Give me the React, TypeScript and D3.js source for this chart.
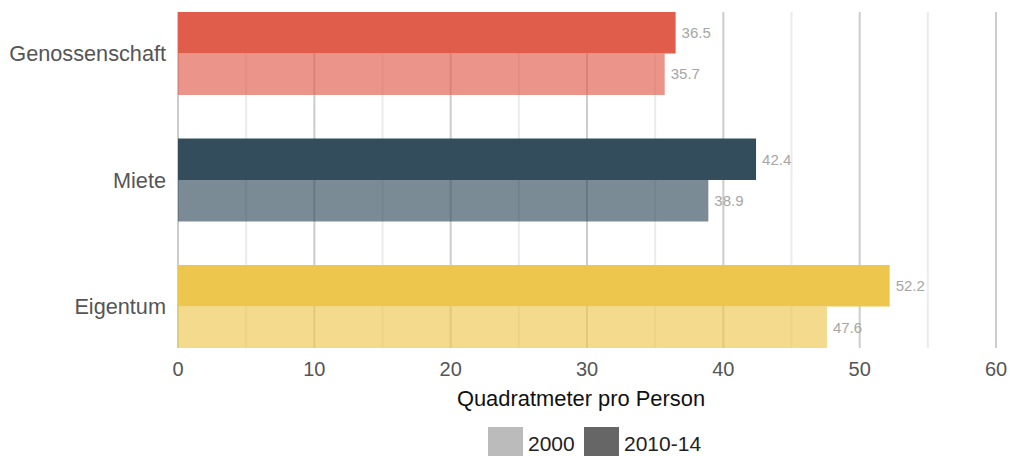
import React from "react";
import * as d3 from "d3";

const categories = ["Genossenschaft", "Miete", "Eigentum"];
const series = ["2010-14", "2000"];
const values2010 = [36.5, 42.4, 52.2];
const values2000 = [35.7, 38.9, 47.6];
const baseColors = ["#E05C4B", "#344D5C", "#EDC64E"];
const majorTicks = [0, 10, 20, 30, 40, 50, 60];
const minorTicks = [5, 15, 25, 35, 45, 55];
const legendItems = [
  { label: "2000", color: "#bbbbbb" },
  { label: "2010-14", color: "#666666" },
];

const W = 1010;
const H = 456;
const FONT = "'Liberation Sans', Arial, Helvetica, sans-serif";

export default function App() {
  const x = d3.scaleLinear().domain([0, 60]).range([178, 996]);
  const y = d3.scaleBand().domain(categories).range([12, 348]).paddingInner(0.344).paddingOuter(0);
  const sub = d3.scaleBand().domain(series).range([0, y.bandwidth()]);
  const plotTop = 12;
  const plotBottom = 348;

  const bars: any[] = [];
  categories.forEach((c, i) => {
    bars.push({ cat: c, s: "2010-14", v: values2010[i], color: baseColors[i], opacity: 1 });
    bars.push({ cat: c, s: "2000", v: values2000[i], color: baseColors[i], opacity: 0.65 });
  });

  return (
    <svg width={W} height={H} style={{ position: "absolute", left: 0, top: 0, fontFamily: FONT }}>
      <g>
        {minorTicks.map((t) => (
          <line key={"mi" + t} x1={x(t)} x2={x(t)} y1={plotTop} y2={plotBottom} stroke="#ebebeb" strokeWidth={2} />
        ))}
        {majorTicks.map((t) => (
          <line key={"ma" + t} x1={x(t)} x2={x(t)} y1={plotTop} y2={plotBottom} stroke="#cccccc" strokeWidth={2} />
        ))}
      </g>
      <g>
        {bars.map((b) => {
          const y0 = (y(b.cat) as number) + (sub(b.s) as number);
          return (
            <rect
              key={b.cat + b.s}
              x={x(0)}
              y={y0}
              width={x(b.v) - x(0)}
              height={sub.bandwidth()}
              fill={b.color}
              fillOpacity={b.opacity}
            />
          );
        })}
      </g>
      <g>
        {bars.map((b) => {
          const y0 = (y(b.cat) as number) + (sub(b.s) as number) + sub.bandwidth() / 2;
          return (
            <text key={"l" + b.cat + b.s} x={x(b.v) + 6} y={y0} dy="0.35em" fontSize={15} fill="#a6a6a6">
              {b.v.toFixed(1)}
            </text>
          );
        })}
      </g>
      <g>
        {categories.map((c) => (
          <text
            key={"c" + c}
            x={166}
            y={(y(c) as number) + y.bandwidth() / 2}
            dy="0.35em"
            textAnchor="end"
            fontSize={21.7}
            fill="#555555"
          >
            {c}
          </text>
        ))}
      </g>
      <g>
        {majorTicks.map((t) => (
          <text key={"t" + t} x={x(t)} y={376} textAnchor="middle" fontSize={20} fill="#555555">
            {t}
          </text>
        ))}
      </g>
      <text x={581} y={406} textAnchor="middle" fontSize={21.9} fill="#111111">
        Quadratmeter pro Person
      </text>
      <g>
        <rect x={488} y={427} width={35} height={29} fill={legendItems[0].color} />
        <text x={528} y={451} fontSize={21} fill="#222222">
          {legendItems[0].label}
        </text>
        <rect x={584} y={427} width={35} height={29} fill={legendItems[1].color} />
        <text x={624} y={451} fontSize={21} fill="#222222">
          {legendItems[1].label}
        </text>
      </g>
    </svg>
  );
}
